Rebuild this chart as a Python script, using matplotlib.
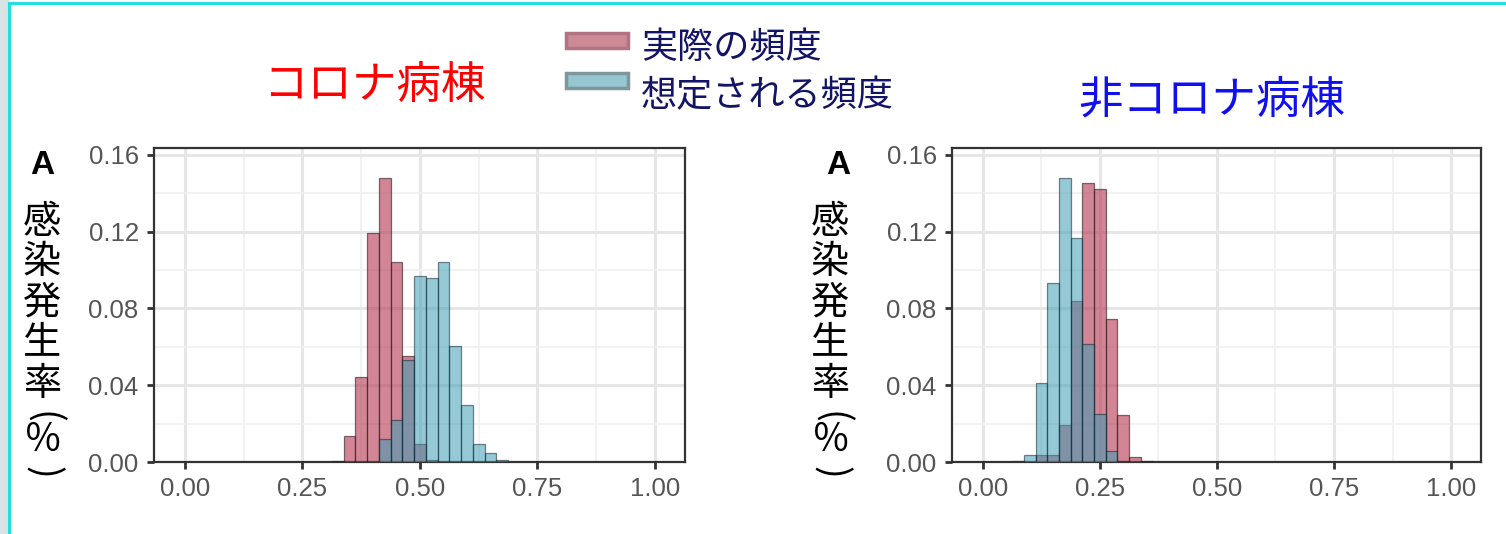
import matplotlib.pyplot as plt
from matplotlib.patches import Rectangle

plt.rcParams['font.family'] = ['Noto Sans CJK JP', 'DejaVu Sans']

# bin centres (bin width 0.025) and densities
bin_width = 0.025
centers_covid = [0.325, 0.35, 0.375, 0.4, 0.425, 0.45, 0.475, 0.5, 0.525,
                 0.55, 0.575, 0.6, 0.625, 0.65, 0.675]
actual_covid = [0.0005, 0.0133, 0.0442, 0.119, 0.1477, 0.1039, 0.055, 0.0095,
                0.001, 0, 0, 0, 0, 0, 0]
expected_covid = [0, 0, 0, 0.0, 0.0118, 0.022, 0.053, 0.0966, 0.0956,
                  0.1044, 0.0606, 0.0298, 0.0095, 0.0047, 0.001]

centers_other = [0.075, 0.1, 0.125, 0.15, 0.175, 0.2, 0.225, 0.25, 0.275,
                 0.3, 0.325, 0.35]
actual_other = [0, 0, 0.0035, 0.0035, 0.0194, 0.0836, 0.1451, 0.142, 0.0745,
                0.0246, 0.0026, 0.0005]
expected_other = [0.0005, 0.0035, 0.041, 0.093, 0.1477, 0.1165, 0.0615,
                  0.0251, 0.0057, 0.0005, 0, 0]

x_ticks = [0.0, 0.25, 0.5, 0.75, 1.0]
y_ticks = [0.0, 0.04, 0.08, 0.12, 0.16]
titles = ['コロナ病棟', '非コロナ病棟']
legend_labels = ['実際の頻度', '想定される頻度']
# vertical writing: 感染発生率（％）, brackets are turned sideways
ylabel_chars = ['感', '染', '発', '生', '率', '(', '％', ')']

red = '#b5364f'
blue = '#3e9db5'
navy = '#141466'

W, H = 1506, 534
fig = plt.figure(figsize=(W / 100, H / 100), dpi=100)


def fx(px):
    return px / W


def fy(py):
    return 1 - py / H


# slide frame: grey margin and cyan border
fig.patches.append(Rectangle((0, 0), fx(8), 1, transform=fig.transFigure,
                             color='#d8e4e4', zorder=0))
fig.add_artist(plt.Line2D([fx(9), fx(9)], [0, fy(3)], color='#22dede', lw=2.2))
fig.add_artist(plt.Line2D([fx(9), 1], [fy(3), fy(3)], color='#22dede', lw=2.2))


def panel(rect, centers, actual, expected):
    ax = fig.add_axes(rect)
    ax.bar(centers, actual, width=bin_width, color=red, alpha=0.6,
           edgecolor=(0.15, 0.1, 0.1, 0.7), linewidth=0.9, zorder=3)
    ax.bar(centers, expected, width=bin_width, color=blue, alpha=0.55,
           edgecolor=(0.05, 0.15, 0.2, 0.7), linewidth=0.9, zorder=4)
    ax.set_xlim(-0.066, 1.064)
    ax.set_ylim(0, 0.1635)
    ax.set_xticks(x_ticks)
    ax.set_xticklabels([f'{t:.2f}' for t in x_ticks])
    ax.set_yticks(y_ticks)
    ax.set_yticklabels([f'{t:.2f}' for t in y_ticks])
    ax.set_xticks([0.125, 0.375, 0.625, 0.875], minor=True)
    ax.set_yticks([0.02, 0.06, 0.10, 0.14], minor=True)
    ax.grid(True, which='major', color='#e6e6e6', lw=2.2, zorder=0)
    ax.grid(True, which='minor', color='#f0f0f0', lw=1.2, zorder=0)
    ax.tick_params(which='major', length=5, width=2, color='#333333',
                   labelsize=18.5, labelcolor='#555555', pad=6)
    ax.tick_params(which='minor', length=0)
    for lab in ax.get_xticklabels() + ax.get_yticklabels():
        lab.set_family('Liberation Sans')
    for s in ax.spines.values():
        s.set_color('#333333')
        s.set_linewidth(1.6)
    return ax


panel([fx(154), fy(462), 531 / W, 314 / H],
      centers_covid, actual_covid, expected_covid)
panel([fx(952), fy(462), 529 / W, 314 / H],
      centers_other, actual_other, expected_other)

# panel titles
fig.text(fx(375), fy(85), titles[0], color='#ff0000', fontsize=32,
         ha='center', va='center')
fig.text(fx(1212), fy(100), titles[1], color='#1010ee', fontsize=32,
         ha='center', va='center')

# "A" tags and vertical y labels (one glyph per line)
char_y = [223, 263, 303, 343, 384, 417, 440, 472]
for xa, xl in [(42, 42), (838, 830)]:
    fig.text(fx(xa), fy(165), 'A', fontsize=24, fontweight='bold',
             family='Liberation Sans', ha='center', va='center')
    for ch, cy in zip(ylabel_chars, char_y):
        rot = 270 if ch in '()' else 0
        fig.text(fx(xl), fy(cy), ch, fontsize=27.5, ha='center', va='center',
                 rotation=rot)

# legend: swatches and labels
swatches = [('#cc8a96', '#b07482', 33), ('#96c6d0', '#7d979b', 73)]
for (face, edge, top), label, ty in zip(swatches, legend_labels, [48, 96]):
    fig.patches.append(Rectangle((fx(566), fy(top + 15)), 62 / W, 15 / H,
                                 transform=fig.transFigure, facecolor=face,
                                 edgecolor=edge, linewidth=2.5))
    fig.text(fx(641), fy(ty), label, color=navy, fontsize=26, ha='left',
             va='center')

fig.savefig('out.png', dpi=100)
